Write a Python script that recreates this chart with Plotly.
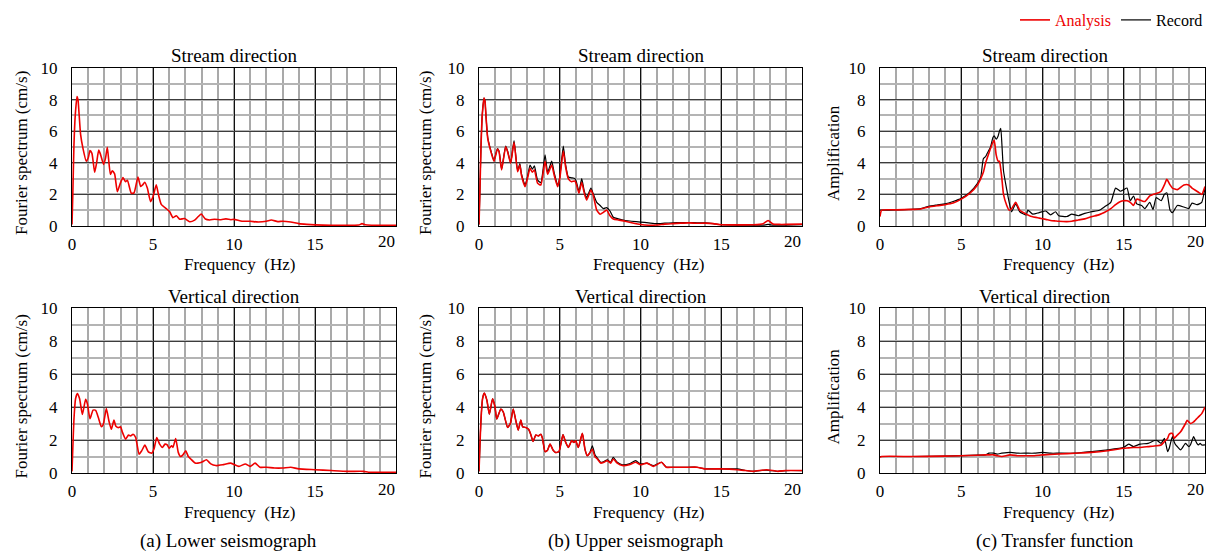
import plotly.graph_objects as go

W, H = 1213, 552
FONT = "Liberation Serif, Times New Roman, serif"
RED = "#ee0000"
BLACK = "#000000"

# ---------------- data ----------------
lower_stream_f = [0, 0.05, 0.12, 0.2, 0.31, 0.37, 0.43, 0.53, 0.68, 0.88, 1.0, 1.11, 1.23, 1.40, 1.52,
                  1.65, 1.77, 1.95, 2.07, 2.18, 2.37, 2.49, 2.63, 2.8, 2.98, 3.15, 3.3, 3.42, 3.66, 3.83,
                  4.07, 4.24, 4.36, 4.49, 4.65, 4.85, 5.0, 5.2, 5.35, 5.51, 5.82, 6.03, 6.23, 6.44, 6.65,
                  6.95, 7.26, 7.57, 7.8, 7.98, 8.23, 8.5, 8.8, 9.2, 9.5, 9.8, 10.0, 10.5, 11.0, 11.5,
                  12.0, 12.3, 12.7, 13.0, 13.5, 14.0, 14.5, 15.0, 16.0, 17.0, 17.7, 17.9, 18.1, 18.5, 19.0, 20.0]
lower_stream_analysis = [0.1, 2.0, 5.1, 7.0, 8.2, 8.0, 7.2, 5.8, 4.9, 4.1, 4.3, 4.77, 4.6, 3.4, 4.0,
                         4.8, 4.5, 3.9, 4.3, 4.98, 3.27, 3.5, 3.3, 2.17, 2.7, 3.06, 2.8, 2.9, 2.07, 2.1,
                         3.1, 2.5, 2.6, 2.77, 2.4, 1.54, 1.85, 2.6, 1.93, 1.37, 1.1, 0.9, 0.53, 0.65, 0.43,
                         0.47, 0.27, 0.37, 0.6, 0.76, 0.44, 0.38, 0.43, 0.4, 0.45, 0.4, 0.42, 0.3, 0.3, 0.25,
                         0.3, 0.38, 0.28, 0.3, 0.25, 0.15, 0.1, 0.07, 0.05, 0.05, 0.06, 0.15, 0.08, 0.05, 0.05, 0.05]

upper_stream_f = [0, 0.05, 0.12, 0.2, 0.31, 0.37, 0.43, 0.54, 0.74, 0.93, 1.14, 1.24, 1.4, 1.65, 1.77,
                  1.96, 2.17, 2.39, 2.53, 2.63, 2.85, 3.0, 3.16, 3.3, 3.43, 3.63, 3.83, 4.09, 4.25, 4.5,
                  4.66, 4.87, 5.0, 5.22, 5.36, 5.53, 5.73, 5.94, 6.04, 6.19, 6.36, 6.52, 6.67, 6.93, 7.07,
                  7.29, 7.5, 7.7, 7.9, 8.11, 8.32, 8.63, 9.05, 9.45, 10.0, 10.5, 11.0, 11.5, 12.0, 12.5,
                  13.0, 13.5, 14.0, 14.5, 15.0, 16.0, 17.0, 17.6, 17.9, 18.2, 18.6, 19.0, 20.0]
upper_stream_analysis = [0.1, 2.0, 4.9, 7.0, 8.1, 7.9, 7.0, 5.55, 4.7, 4.1, 4.87, 4.7, 3.55, 5.02, 4.7,
                         3.97, 5.3, 3.44, 3.86, 3.2, 2.49, 3.0, 3.65, 3.4, 3.55, 2.7, 2.6, 4.1, 3.27, 3.86,
                         3.2, 2.49, 3.0, 4.75, 3.75, 3.0, 2.8, 2.85, 2.6, 2.07, 2.77, 2.07, 1.65, 2.28, 1.96,
                         1.01, 0.74, 0.86, 1.01, 0.65, 0.44, 0.38, 0.3, 0.21, 0.1, 0.05, 0.06, 0.12, 0.15, 0.18,
                         0.2, 0.17, 0.18, 0.15, 0.08, 0.07, 0.08, 0.15, 0.35, 0.12, 0.1, 0.1, 0.12]
upper_stream_record = [0.1, 2.0, 4.9, 7.0, 8.1, 7.9, 7.0, 5.6, 4.75, 4.15, 4.9, 4.75, 3.6, 5.05, 4.75,
                       4.0, 5.4, 3.5, 3.95, 3.3, 2.6, 3.1, 3.85, 3.6, 3.8, 2.9, 2.75, 4.5, 3.4, 4.1,
                       3.35, 2.6, 3.1, 5.05, 3.9, 3.1, 3.05, 3.0, 2.75, 2.2, 3.0, 2.2, 1.8, 2.4, 2.05,
                       1.5, 1.3, 1.1, 1.16, 0.95, 0.55, 0.45, 0.35, 0.3, 0.25, 0.2, 0.15, 0.18, 0.2, 0.22,
                       0.22, 0.2, 0.2, 0.15, 0.08, 0.05, 0.05, 0.05, 0.1, 0.05, 0.05, 0.05, 0.08]

trans_stream_f = [0, 0.1, 1.0, 2.0, 2.5, 3.0, 3.5, 4.0, 4.5, 5.0, 5.5, 6.0, 6.2, 6.36, 6.5,
                  6.6, 6.8, 6.95, 7.03, 7.15, 7.27, 7.35, 7.43, 7.5, 7.6, 7.8, 7.95, 8.1, 8.35, 8.6,
                  9.0, 9.1, 9.4, 9.8, 10.2, 10.5, 10.8, 11.0, 11.5, 11.8, 12.2, 12.6, 13.0, 13.5, 13.8,
                  14.2, 14.5, 14.8, 15.0, 15.2, 15.4, 15.6, 15.8, 16.1, 16.3, 16.6, 16.8, 17.0, 17.3, 17.5,
                  17.65, 17.85, 18.0, 18.3, 18.7, 19.0, 19.2, 19.5, 19.65, 19.8, 20.0]
trans_stream_analysis = [0.6, 1.0, 1.02, 1.05, 1.08, 1.2, 1.28, 1.35, 1.45, 1.7, 2.05, 2.6, 3.0, 3.4, 4.0,
                         4.3, 4.9, 5.3, 5.43, 4.5, 4.1, 4.1, 3.6, 3.0, 2.0, 1.3, 1.0, 1.1, 1.5, 1.0,
                         0.75, 0.7, 0.58, 0.5, 0.42, 0.35, 0.32, 0.3, 0.28, 0.3, 0.38, 0.45, 0.58, 0.72, 0.85,
                         1.1, 1.35, 1.55, 1.6, 1.6, 1.5, 1.3, 1.7, 1.6, 1.55, 1.9, 2.0, 2.05, 2.2, 2.6,
                         2.95, 2.6, 2.4, 2.3, 2.6, 2.6, 2.4, 2.2, 2.1, 2.0, 2.5]
trans_stream_record = [1.0, 1.0, 1.02, 1.06, 1.1, 1.25, 1.33, 1.4, 1.55, 1.75, 2.1, 2.7, 3.1, 4.25, 4.4,
                       4.6, 5.0, 5.6, 5.7, 5.5, 5.7, 6.0, 6.18, 5.2, 3.5, 2.3, 1.5, 0.9, 1.4, 0.9,
                       0.7, 1.0, 0.75, 0.85, 0.95, 0.7, 0.9, 0.65, 0.6, 0.75, 0.65, 0.8, 0.9, 1.0, 1.2,
                       1.5, 2.4, 2.2, 2.3, 2.4, 1.6, 1.9, 1.4, 1.3, 1.1, 1.5, 1.05, 1.8, 1.6, 2.0,
                       2.1, 1.0, 0.85, 1.3, 1.2, 1.1, 1.45, 1.35, 1.4, 1.5, 2.4]

lower_vert_f = [0, 0.05, 0.12, 0.22, 0.33, 0.47, 0.64, 0.84, 0.95, 1.11, 1.3, 1.46, 1.63, 1.81, 1.93,
                2.12, 2.28, 2.43, 2.59, 2.7, 2.86, 3.0, 3.1, 3.31, 3.48, 3.62, 3.77, 3.93, 4.14, 4.3,
                4.5, 4.71, 4.92, 5.06, 5.23, 5.41, 5.58, 5.74, 5.88, 5.99, 6.15, 6.23, 6.4, 6.56, 6.7,
                6.85, 7.02, 7.18, 7.33, 7.6, 7.89, 8.05, 8.3, 8.57, 8.88, 9.3, 9.8, 10.3, 10.7, 11.0,
                11.3, 11.6, 12.0, 12.5, 13.0, 13.5, 14.0, 15.0, 16.0, 17.0, 18.0, 18.3, 19.0, 20.0]
lower_vert_analysis = [0.1, 1.5, 3.25, 4.5, 4.82, 4.5, 3.55, 4.46, 4.2, 3.29, 3.81, 3.8, 3.35, 2.81, 2.95,
                       3.9, 3.15, 2.65, 3.21, 2.85, 2.75, 2.8, 2.5, 2.05, 2.3, 2.25, 2.35, 2.15, 1.14, 1.34,
                       1.69, 1.28, 1.2, 1.45, 2.15, 1.75, 1.55, 1.75, 1.7, 1.5, 1.65, 1.55, 2.09, 1.25, 1.0,
                       1.1, 1.35, 1.0, 0.85, 0.6, 0.62, 0.68, 0.8, 0.55, 0.45, 0.5, 0.6, 0.4, 0.55, 0.4,
                       0.6, 0.35, 0.35, 0.3, 0.3, 0.35, 0.25, 0.2, 0.15, 0.1, 0.1, 0.05, 0.05, 0.05]

upper_vert_f = [0, 0.05, 0.12, 0.22, 0.33, 0.49, 0.64, 0.84, 0.99, 1.1, 1.35, 1.5, 1.77, 1.94, 2.12,
                2.28, 2.43, 2.59, 2.7, 2.9, 3.07, 3.2, 3.35, 3.52, 3.68, 3.83, 3.93, 4.09, 4.24, 4.4,
                4.59, 4.75, 4.95, 5.2, 5.37, 5.53, 5.74, 5.88, 5.99, 6.15, 6.4, 6.56, 6.7, 6.85, 7.02,
                7.18, 7.33, 7.53, 7.74, 7.94, 8.15, 8.31, 8.56, 8.87, 9.3, 9.7, 10.0, 10.4, 10.8, 11.3,
                11.6, 12.0, 13.0, 13.5, 14.0, 15.0, 16.0, 16.5, 17.0, 17.8, 18.5, 19.0, 20.0]
upper_vert_analysis = [0.1, 1.5, 3.17, 4.5, 4.84, 4.4, 3.57, 4.49, 4.0, 3.27, 3.88, 3.7, 2.76, 3.0, 3.88,
                       3.17, 2.6, 3.21, 2.8, 2.76, 2.65, 2.35, 1.91, 2.3, 2.25, 2.35, 2.1, 1.3, 1.38, 1.75,
                       1.38, 1.24, 1.3, 2.32, 1.85, 1.55, 1.95, 1.85, 1.95, 1.55, 2.4, 1.45, 1.05, 1.2, 1.44,
                       0.98, 0.85, 0.6, 0.65, 0.75, 0.6, 0.85, 0.6, 0.45, 0.5, 0.65, 0.5, 0.6, 0.4, 0.65,
                       0.35, 0.35, 0.35, 0.35, 0.25, 0.25, 0.2, 0.15, 0.1, 0.2, 0.1, 0.15, 0.15]
upper_vert_record = [0.1, 1.5, 3.17, 4.5, 4.84, 4.4, 3.57, 4.49, 4.0, 3.27, 3.88, 3.7, 2.76, 3.0, 3.88,
                     3.17, 2.6, 3.21, 2.8, 2.76, 2.65, 2.35, 1.91, 2.3, 2.25, 2.35, 2.1, 1.3, 1.38, 1.75,
                     1.38, 1.24, 1.3, 2.32, 1.85, 1.55, 1.95, 1.85, 1.95, 1.55, 2.4, 1.45, 1.05, 1.2, 1.65,
                     1.1, 0.9, 0.65, 0.7, 0.8, 0.65, 0.95, 0.65, 0.5, 0.55, 0.75, 0.55, 0.6, 0.45, 0.65,
                     0.35, 0.35, 0.35, 0.35, 0.25, 0.25, 0.25, 0.15, 0.1, 0.18, 0.1, 0.15, 0.15]

trans_vert_f = [0, 0.1, 2, 4, 5, 6, 6.5, 6.7, 7.0, 7.2, 7.5, 8.0, 8.5, 9.0, 9.5,
                10.0, 10.5, 11.0, 12.0, 13.0, 14.0, 15.0, 15.3, 15.6, 16.0, 16.5, 17.0, 17.3, 17.5, 17.7,
                17.8, 17.9, 18.0, 18.1, 18.2, 18.3, 18.5, 18.8, 18.9, 19.0, 19.1, 19.3, 19.4, 19.5, 19.6,
                19.7, 19.8, 20.0]
trans_vert_analysis = [0.95, 1.0, 1.0, 1.02, 1.05, 1.08, 1.1, 1.1, 1.1, 1.05, 1.0, 1.1, 1.05, 1.05, 1.05,
                       1.1, 1.12, 1.15, 1.2, 1.25, 1.35, 1.5, 1.52, 1.55, 1.55, 1.6, 1.65, 1.7, 1.9, 2.1,
                       2.35, 2.4, 2.4, 2.1, 2.2, 2.3, 2.5, 3.0, 3.2, 3.1, 3.0, 3.1, 3.2, 3.3, 3.4,
                       3.5, 3.6, 4.0]
trans_vert_record = [1.0, 1.0, 1.0, 1.03, 1.05, 1.08, 1.1, 1.2, 1.2, 1.15, 1.2, 1.25, 1.2, 1.2, 1.2,
                     1.25, 1.2, 1.2, 1.2, 1.3, 1.4, 1.55, 1.75, 1.6, 1.75, 1.8, 2.0, 1.8, 2.1, 1.3,
                     1.5, 1.9, 2.2, 1.9, 1.7, 1.6, 1.4, 1.8, 1.7, 1.6, 1.7, 2.2, 2.0, 1.8, 1.7,
                     1.8, 1.7, 1.7]

x_ticks = [0, 5, 10, 15, 20]
x_tick_labels = ["0", "5", "10", "15", "20"]
y_ticks = [0, 2, 4, 6, 8, 10]

subplot_titles = ["Stream direction", "Stream direction", "Stream direction",
                  "Vertical direction", "Vertical direction", "Vertical direction"]
y_titles = ["Fourier spectrum (cm/s)", "Fourier spectrum (cm/s)", "Amplification"]
captions = ["(a) Lower seismograph", "(b) Upper seismograph", "(c) Transfer function"]

# ---------------- layout geometry (pixels) ----------------
col_px = [(72, 396), (479, 802), (880, 1205)]
row_px = [(68, 226), (308, 473)]


def px_x(x):
    return x / W


def px_y(y):
    return 1 - y / H


fig = go.Figure()

panels = [
    (0, 0, [(lower_stream_f, lower_stream_analysis, RED, 1.6, "Analysis", False, 1)]),
    (0, 1, [(upper_stream_f, upper_stream_record, BLACK, 1.2, "Record", False, 2),
            (upper_stream_f, upper_stream_analysis, RED, 1.6, "Analysis", False, 1)]),
    (0, 2, [(trans_stream_f, trans_stream_record, BLACK, 1.2, "Record", True, 2),
            (trans_stream_f, trans_stream_analysis, RED, 1.6, "Analysis", True, 1)]),
    (1, 0, [(lower_vert_f, lower_vert_analysis, RED, 1.6, "Analysis", False, 1)]),
    (1, 1, [(upper_vert_f, upper_vert_record, BLACK, 1.2, "Record", False, 2),
            (upper_vert_f, upper_vert_analysis, RED, 1.6, "Analysis", False, 1)]),
    (1, 2, [(trans_vert_f, trans_vert_record, BLACK, 1.2, "Record", False, 2),
            (trans_vert_f, trans_vert_analysis, RED, 1.6, "Analysis", False, 1)]),
]

axis_font = dict(family=FONT, size=17, color="black")
annotations = []

for i, (r, c, series) in enumerate(panels):
    n = i + 1
    xname = "xaxis" if n == 1 else f"xaxis{n}"
    yname = "yaxis" if n == 1 else f"yaxis{n}"
    xref = "x" if n == 1 else f"x{n}"
    yref = "y" if n == 1 else f"y{n}"
    x0, x1 = col_px[c]
    y0, y1 = row_px[r]
    # last tick label ("20") is drawn separately, pulled inside like the original
    fig.update_layout({
        xname: dict(domain=[px_x(x0), px_x(x1)], anchor=yref, range=[0, 20],
                    tickvals=x_ticks, ticktext=x_tick_labels[:-1] + [""], ticks="",
                    showgrid=True, gridcolor="#111111", gridwidth=1,
                    minor=dict(dtick=1, tick0=0, showgrid=True, gridcolor="#a9a9a9", gridwidth=1.5),
                    showline=True, linecolor="black", linewidth=1, mirror=True, zeroline=False,
                    tickfont=axis_font, ticklabelstandoff=3, fixedrange=True, automargin=False),
        yname: dict(domain=[px_y(y1), px_y(y0)], anchor=xref, range=[0, 10],
                    tickvals=y_ticks, ticks="", showgrid=True, gridcolor="#3c3c3c", gridwidth=1.3,
                    minor=dict(dtick=1, tick0=0, showgrid=True, gridcolor="#b4b4b4", gridwidth=1.5),
                    showline=True, linecolor="black", linewidth=1, mirror=True, zeroline=False,
                    tickfont=axis_font, ticklabelstandoff=10, fixedrange=True, automargin=False),
    })
    annotations.append(dict(text=x_tick_labels[-1], x=px_x(x1 - 10), y=px_y(y1 + 16),
                            xref="paper", yref="paper", showarrow=False,
                            xanchor="center", yanchor="middle", font=axis_font))
    for (xs, ys, color, width, name, showlegend, rank) in series:
        label = f"<span style='color:{color}'>{name}</span>"
        fig.add_trace(go.Scatter(x=xs, y=ys, mode="lines", xaxis=xref, yaxis=yref,
                                 line=dict(color=color, width=width, shape="spline", smoothing=0.5),
                                 name=label, showlegend=showlegend, legendrank=rank,
                                 hoverinfo="skip"))

# subplot titles
title_centers_x = [234, 641, 1045]
title_y = [55, 297]
for i, t in enumerate(subplot_titles):
    r, c = divmod(i, 3)
    annotations.append(dict(text=t, x=px_x(title_centers_x[c]), y=px_y(title_y[r]),
                            xref="paper", yref="paper", showarrow=False,
                            xanchor="center", yanchor="middle",
                            font=dict(family=FONT, size=19, color="black")))
# x-axis titles
xt_centers = [239, 648, 1058]
xt_y = [264, 512]
for r in range(2):
    for c in range(3):
        annotations.append(dict(text="Frequency  (Hz)", x=px_x(xt_centers[c]), y=px_y(xt_y[r]),
                                xref="paper", yref="paper", showarrow=False,
                                xanchor="center", yanchor="middle",
                                font=dict(family=FONT, size=17, color="black")))
# y-axis titles
yt_x = [21, 425, 833]
for r in range(2):
    yc = (row_px[r][0] + row_px[r][1]) / 2 + 6
    for c in range(3):
        annotations.append(dict(text=y_titles[c], x=px_x(yt_x[c]), y=px_y(yc),
                                xref="paper", yref="paper", showarrow=False, textangle=-90,
                                xanchor="center", yanchor="middle",
                                font=dict(family=FONT, size=17, color="black")))
# captions
cap_x = [229, 636, 1055]
for c in range(3):
    annotations.append(dict(text=captions[c], x=px_x(cap_x[c]), y=px_y(541),
                            xref="paper", yref="paper", showarrow=False,
                            xanchor="center", yanchor="middle",
                            font=dict(family=FONT, size=19, color="black")))

fig.update_layout(
    width=W, height=H,
    margin=dict(l=0, r=0, t=0, b=0, pad=0, autoexpand=False),
    paper_bgcolor="white", plot_bgcolor="white",
    font=dict(family=FONT, size=17, color="black"),
    annotations=annotations,
    showlegend=True,
    legend=dict(orientation="h", x=px_x(1208), xanchor="right", y=px_y(20), yanchor="middle",
                font=dict(family=FONT, size=16, color="black"), bgcolor="rgba(0,0,0,0)",
                itemwidth=30, traceorder="normal"),
)

fig.write_html("out.html")
